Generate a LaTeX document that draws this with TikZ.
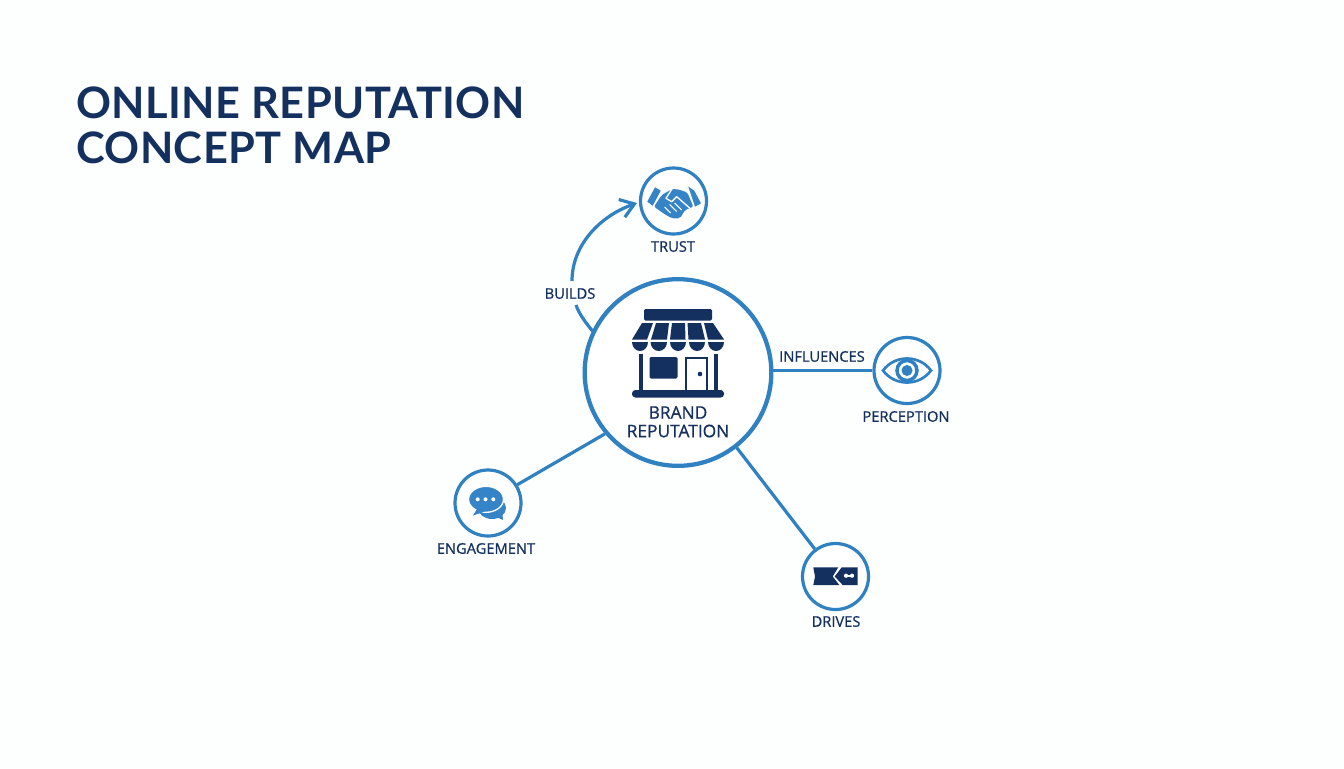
\documentclass[tikz,border=0pt]{standalone}
\usepackage{fontspec}
\usetikzlibrary{arrows.meta}
\setmainfont{Open Sans}
\newfontfamily\titlefont[LetterSpace=1.0]{Lato}
\newfontfamily\labfont[FakeBold=0.7]{Open Sans}
\definecolor{navy}{HTML}{14305F}
\definecolor{ring}{HTML}{2F81C1}
\definecolor{iconblue}{HTML}{3584C8}
\definecolor{bg}{HTML}{FDFEFE}
\tikzset{
  x=0.75pt,y=-0.75pt,
  hub/.style={circle,draw=ring,fill=white,line width=3.2pt,minimum size=140pt,inner sep=0pt},
  sat/.style={circle,draw=ring,fill=white,line width=2.4pt,minimum size=49.5pt,inner sep=0pt},
  link/.style={draw=ring,line width=2.4pt},
  lab/.style={text=navy,font=\labfont\fontsize{11}{12}\selectfont,inner sep=0pt,align=center},
  biglab/.style={text=navy,font=\labfont\fontsize{13}{14}\selectfont,inner sep=0pt,align=center},
  titletext/.style={anchor=west,text=navy,inner sep=0pt,font=\titlefont\bfseries\fontsize{32.5}{36}\selectfont}
}
\begin{document}
\begin{tikzpicture}
\useasboundingbox (0,0) rectangle (1344,768);
\fill[bg] (0,0) rectangle (1344,768);
% nodes
\node[hub] (hub) at (678,372.5) {};
\node[sat] (trust) at (673.5,201) {};
\node[sat] (perc) at (907,370.5) {};
\node[sat] (eng) at (488,503) {};
\node[sat] (drv) at (835.5,576.5) {};
% connectors
\coordinate (bstart) at (592.5,331);
\coordinate (bmid) at (572,281);
\coordinate (bgap) at (576,305);
\coordinate (btip) at (637,203);
\draw[link] (bstart) .. controls (586,323) and (579,314) .. (bgap);
\draw[link,-{Straight Barb[length=10pt,width=14pt,line width=2.4pt]}] (bmid) .. controls (572,245) and (600,216) .. (btip);
\draw[link] (hub.east |- perc) -- (perc.west);
\draw[link] (hub.220) -- (eng.32);
\draw[link] (hub.-52) -- (drv.127);
% title
\node[titletext] (t1) at (76,102.5) {ONLINE REPUTATION};
\node[titletext] (t2) at (76,148) {CONCEPT MAP};
% labels
\node[lab] (l0) at (570,293.5) {BUILDS};
\node[lab] (l1) at (822,356.5) {INFLUENCES};
\node[lab] (l2) at (673,246.5) {TRUST};
\node[lab] (l3) at (906,416.5) {PERCEPTION};
\node[lab] (l4) at (486,548.5) {ENGAGEMENT};
\node[lab] (l5) at (836,621.5) {DRIVES};
\node[biglab] (l6) at (678,412.5) {BRAND};
\node[biglab] (l7) at (678,431) {REPUTATION};
% shop icon
\fill[navy,rounded corners=1pt] (644,309) rectangle (712,320.5);
\fill[navy] (642,323) -- (653,323) -- (647,339.5) -- (632,339.5) -- cycle;
\fill[navy] (656,323) -- (669,323) -- (667,339.5) -- (651,339.5) -- cycle;
\fill[navy] (672,323) -- (685,323) -- (685.5,339.5) -- (670,339.5) -- cycle;
\fill[navy] (687.5,323) -- (701,323) -- (705,339.5) -- (688.5,339.5) -- cycle;
\fill[navy] (704,323) -- (713,323) -- (724,339.5) -- (708,339.5) -- cycle;
\fill[navy] (632,342) -- (648,342) arc[start angle=0,end angle=180,x radius=8,y radius=9] -- cycle;
\fill[navy] (650.5,342) -- (667,342) arc[start angle=0,end angle=180,x radius=8.25,y radius=9] -- cycle;
\fill[navy] (670,342) -- (686,342) arc[start angle=0,end angle=180,x radius=8,y radius=9] -- cycle;
\fill[navy] (689,342) -- (705,342) arc[start angle=0,end angle=180,x radius=8,y radius=9] -- cycle;
\fill[navy] (708,342) -- (724,342) arc[start angle=0,end angle=180,x radius=8,y radius=9] -- cycle;
\fill[navy] (639,353.5) rectangle (642.5,392);
\fill[navy] (714,353.5) rectangle (717.5,392);
\fill[navy,rounded corners=1pt] (649.5,357) rectangle (677.5,378.5);
\draw[navy,line width=2pt] (686,391) -- (686,358) -- (707,358) -- (707,391);
\fill[navy] (700,374) circle (2.3);
\fill[navy,rounded corners=2.5pt] (632,390) rectangle (724,397.5);
% handshake icon
\begin{scope}[shift={(673.5,201)}]
\fill[iconblue] (-18.5,-13.7) -- (-12.8,-10.3) -- (-20.8,4.7) -- (-26.2,0.7) -- cycle;
\fill[iconblue] (14.8,-14.3) -- (20.8,-10.3) -- (27.5,2.3) -- (21.5,5.7) -- cycle;
\fill[iconblue,rounded corners=1.5pt] (-11.8,-6) -- (-1.8,-11.7) -- (3.2,-12) -- (13.8,-8.7) -- (19.8,5.7) -- (11.5,9) -- (6.5,17.3) -- (-1.8,17.3) -- (-10.2,12.3) -- (-19.5,5.7) -- cycle;
\draw[white,line width=1pt,line join=round] (-1.8,-11.7) -- (-7.5,-2.7) -- (-1.8,0.7) -- (3.2,-4.3) -- (16.5,7.3);
\draw[white,line width=0.8pt] (-9,6) -- (-3,12) (-4,3.5) -- (3,10.5) (1,2) -- (8,9);
\end{scope}
% eye icon
\begin{scope}[shift={(907,370.5)}]
\draw[ring,line width=2pt,fill=white] (-24,0) .. controls (-12,-16) and (12,-16) .. (24,0) .. controls (12,16) and (-12,16) .. (-24,0) -- cycle;
\draw[ring,line width=2.6pt,fill=white] (0,0) circle (10);
\fill[ring] (0,0) circle (5.5);
\end{scope}
% chat icon
\begin{scope}[shift={(488,503)}]
\fill[iconblue] (4,5) ellipse (14 and 11);
\fill[iconblue] (6,13) -- (15,17) -- (14,6) -- cycle;
\draw[white,line width=1pt,fill=iconblue] (-2,-3.7) ellipse (17.5 and 13);
\fill[iconblue] (-11,6) -- (-15,12.5) -- (-3,8.5) -- cycle;
\fill[white] (-10.3,-3.7) circle (2) (-2.5,-3.7) circle (2) (5.3,-3.7) circle (2);
\end{scope}
% drives icon
\begin{scope}[shift={(835.5,576.5)}]
\fill[navy] (-22.2,-9.2) -- (2.8,-9.2) -- (-2.8,0) -- (3.8,8.5) -- (-22.2,8.5) -- (-20.5,0) -- cycle;
\fill[navy] (6.2,-9.2) -- (22.2,-9.2) -- (22.2,8.5) -- (7.2,8.5) -- (-0.8,0) -- cycle;
\fill[white] (10.5,-0.8) circle (2.1) (16.5,-0.8) circle (2.1);
\fill[white] (10.5,-1.5) rectangle (16.5,0);
\end{scope}
\end{tikzpicture}
\end{document}
